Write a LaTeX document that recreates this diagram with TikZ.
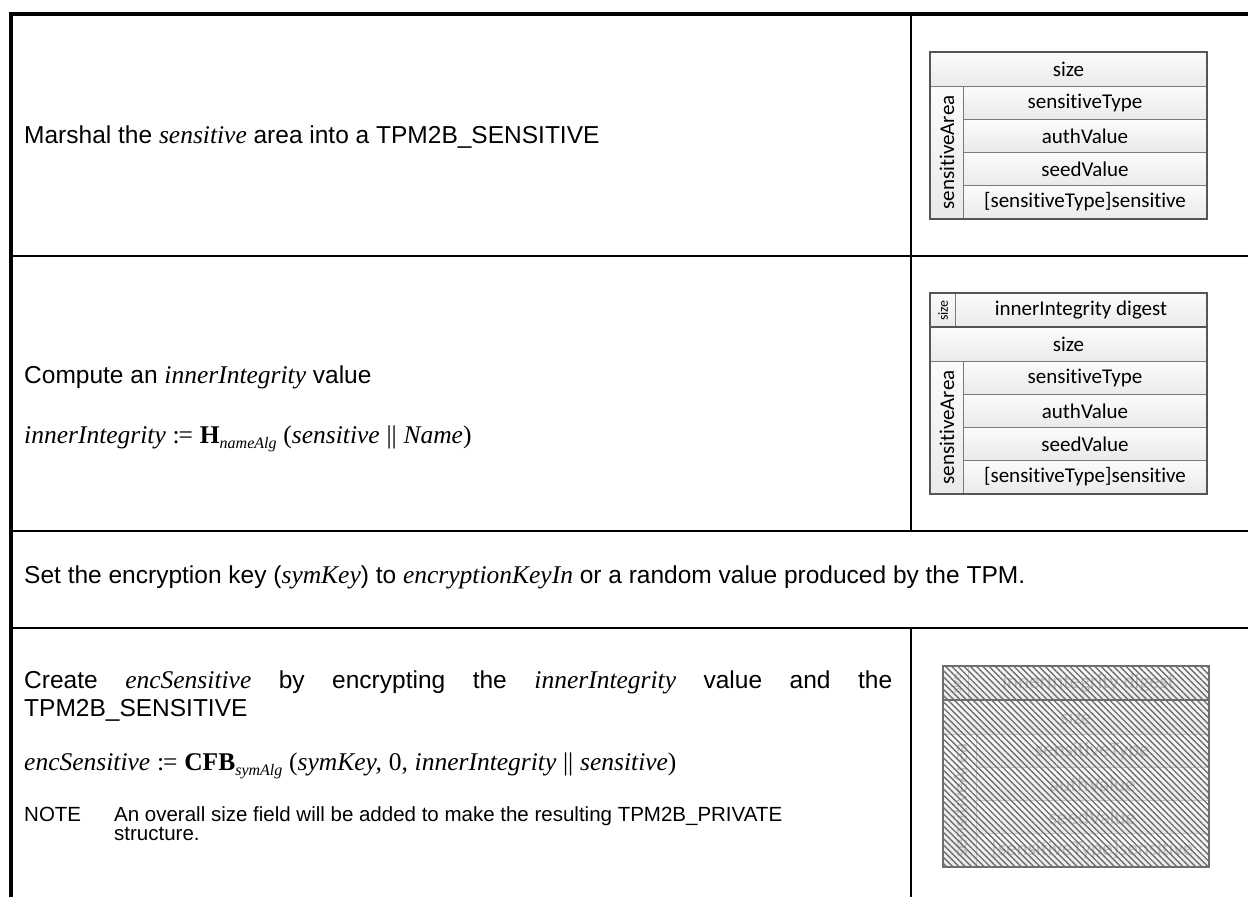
\documentclass[tikz,border=0pt]{standalone}
\usepackage{fontspec}
\usepackage{graphicx}
\setmainfont{Liberation Sans}
\newfontfamily\tblfont{Carlito}[Ligatures=NoCommon]
\newfontfamily\srf{Liberation Serif}
\usetikzlibrary{patterns.meta}
\definecolor{boxline}{HTML}{555555}
\definecolor{cellline}{HTML}{7A7A7A}
\definecolor{celltop}{HTML}{FBFBFB}
\definecolor{cellbot}{HTML}{EAEAEA}
\definecolor{ghostline}{HTML}{C8C8C8}
\definecolor{ghosttext}{HTML}{BDBDBD}
\definecolor{hatch}{HTML}{6E6E6E}
\newcommand\vi[1]{{\srf\itshape\fontsize{25.5}{28}\selectfont #1}}
\newcommand\vb[1]{{\srf\bfseries\fontsize{25.5}{28}\selectfont #1}}
\newcommand\vsub[1]{\raisebox{-5pt}{\srf\itshape\fontsize{16}{18}\selectfont #1}}
\newcommand\vr[1]{{\srf\fontsize{25.5}{28}\selectfont #1}}
\newcommand\defeq{\vr{:\kern-1pt=}}
% prefix, x, y, 5th row label, total width
\newcommand\senstable[5]{%
  \node[cell,minimum width=#5 pt,minimum height=34pt] (#1-size) at (#2,#3) {size};
  \node[cell,minimum width=33pt,minimum height=132pt] (#1-area) at (#2,#3+34) {\rotatebox{90}{sensitiveArea}};
  \node[cell,minimum width=#5 pt-33pt,minimum height=33pt] (#1-type) at (#2+33,#3+34) {sensitiveType};
  \node[cell,minimum width=#5 pt-33pt,minimum height=33pt] (#1-auth) at (#2+33,#3+67) {authValue};
  \node[cell,minimum width=#5 pt-33pt,minimum height=33pt] (#1-seed) at (#2+33,#3+100) {#4};
  \node[cell,minimum width=#5 pt-33pt,minimum height=33pt] (#1-sens) at (#2+33,#3+133) {[sensitiveType]sensitive};
  \draw[outer] (#1-size.north west) rectangle (#1-sens.south east);
}
% prefix, x, y, total width
\newcommand\digestrow[4]{%
  \node[cell,minimum width=25pt,minimum height=34pt] (#1-dsize) at (#2,#3) {\rotatebox{90}{\fontsize{14}{14}\selectfont size}};
  \node[cell,minimum width=#4 pt-25pt,minimum height=34pt] (#1-dig) at (#2+25,#3) {innerIntegrity digest};
  \draw[outer] (#1-dsize.north west) rectangle (#1-dig.south east);
}
\begin{document}
\begin{tikzpicture}[x=1pt,y=-1pt,
  cell/.style={draw=cellline,line width=1pt,top color=celltop,bottom color=cellbot,
    inner sep=0pt,anchor=north west,font=\tblfont\fontsize{21}{24}\selectfont},
  outer/.style={draw=boxline,line width=2pt},
  txt/.style={inner sep=0pt,anchor=base west,font=\fontsize{24.5}{28}\selectfont},
  notetxt/.style={inner sep=0pt,anchor=base west,font=\fontsize{20.5}{17}\selectfont},
  frame/.style={line width=4pt},
  rowsep/.style={line width=2.2pt},
  colsep/.style={line width=2pt}]
\fill[white] (0,0) rectangle (1248,897);
\useasboundingbox (0,0) rectangle (1248,897);
% frame
\coordinate (tr) at (1248,14);
\coordinate (tl) at (11,14);
\coordinate (bl) at (11,897);
\draw[frame,line join=miter] (tr) -- (tl) -- (bl);
\draw[rowsep] (11,256) -- (1248,256);
\draw[rowsep] (11,531) -- (1248,531);
\draw[rowsep] (11,628) -- (1248,628);
\draw[colsep] (911,14) -- (911,531);
\draw[colsep] (911,628) -- (911,897);
% row 1
\node[txt] (r1) at (24,143) {Marshal the \vi{sensitive} area into a TPM2B\_SENSITIVE};
\senstable{t1}{930}{52}{seedValue}{276}
% row 2
\node[txt] (r2a) at (24,383) {Compute an \vi{innerIntegrity} value};
\node[txt] (r2b) at (24,443) {\vi{innerIntegrity} \defeq{} \vb{H}\vsub{nameAlg} \vr{(}\vi{sensitive} \vr{||} \vi{Name}\vr{)}};
\digestrow{t2}{930}{293}{276}
\senstable{t2}{930}{327}{seedValue}{276}
% row 3
\node[txt] (r3) at (24,583) {Set the encryption key (\vi{symKey}) to \vi{encryptionKeyIn} or a random value produced by the TPM.};
% row 4
\node[txt] (r4a) at (24,688) {\makebox[868pt][s]{Create \vi{encSensitive} by encrypting the \vi{innerIntegrity} value and the}};
\node[txt] (r4b) at (24,716) {TPM2B\_SENSITIVE};
\node[txt] (r4c) at (24,770) {\vi{encSensitive} \defeq{} \vb{CFB}\vsub{symAlg} \vr{(}\vi{symKey,} \vr{0}\vi{,} \vi{innerIntegrity} \vr{||} \vi{sensitive}\vr{)}};
\node[notetxt] (note) at (24,821) {NOTE};
\node[notetxt] (n1) at (114,821) {An overall size field will be added to make the resulting TPM2B\_PRIVATE};
\node[notetxt] (n2) at (114,840) {structure.};
\begin{scope}[cell/.append style={draw=ghostline,text=ghosttext},outer/.style={draw=hatch,line width=2pt}]
\digestrow{t3}{943}{666}{265}
\senstable{t3}{943}{700}{seedValue}{265}
\fill[pattern={Lines[angle=-45,distance=4.4pt,line width=1.4pt]},pattern color=hatch]
  (t3-dsize.north west) rectangle (t3-sens.south east);
\draw[outer] (t3-dsize.north west) rectangle (t3-sens.south east);
\end{scope}
\end{tikzpicture}
\end{document}
